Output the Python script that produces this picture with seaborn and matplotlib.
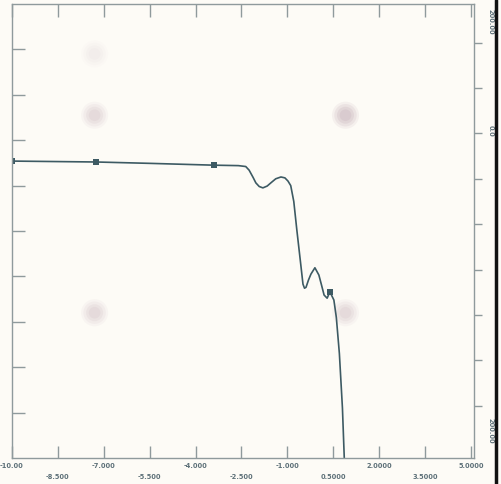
import matplotlib
matplotlib.use("Agg")
import matplotlib.pyplot as plt
import seaborn as sns
import pandas as pd
import numpy as np

# Curve
curve_x = [-10.0, -7.25, -5.5, -3.41, -2.6, -2.36, -2.25, -2.12, -2.03, -1.92, -1.80, -1.66,
           -1.54, -1.38, -1.21, -1.08, -0.98, -0.89, -0.79, -0.69, -0.56, -0.49, -0.44,
           -0.39, -0.31, -0.23, -0.10, 0.03, 0.12, 0.20, 0.30,
           0.39, 0.52, 0.60, 0.70, 0.80, 0.86]
curve_y = [6.54, 6.52, 6.49, 6.45, 6.44, 6.42, 6.34, 6.18, 6.06, 5.98, 5.95, 5.99,
           6.06, 6.15, 6.19, 6.17, 6.10, 6.00, 5.65, 5.02, 4.25, 3.83, 3.74,
           3.76, 3.92, 4.05, 4.19, 4.03, 3.80, 3.59, 3.52,
           3.66, 3.48, 3.10, 2.30, 1.10, 0.0]
marker_x = [-10.0, -7.25, -3.41, 0.39]
marker_y = [6.54, 6.52, 6.45, 3.66]
blob_x = [-7.3, -7.3, 0.9, 0.9, -7.3]
blob_y = [7.55, 3.2, 7.55, 3.2, 8.9]
blob_strength = [0.35, 0.35, 0.6, 0.35, 0.12]

x_ticks = [-10.0, -8.5, -7.0, -5.5, -4.0, -2.5, -1.0, 0.5, 2.0, 3.5, 5.0]
x_labels = ["-10.00", "-8.500", "-7.000", "-5.500", "-4.000", "-2.500", "-1.000",
            "0.5000", "2.0000", "3.5000", "5.0000"]
y_ticks = [1, 2, 3, 4, 5, 6, 7, 8, 9]
right_labels = ["200.00", "0.0", "200.00"]
right_label_pos = [9.6, 7.2, 0.6]

sns.set_style("white")
plt.rcParams['font.family'] = ['DejaVu Sans']

bg = "#fdfbf6"
line_c = "#3d5a63"
frame_c = "#8f9a9c"

fig = plt.figure(figsize=(5.01, 4.84), dpi=100, facecolor=bg)
ax = fig.add_axes([12/501, (484-458)/484, 462/501, 454/484])
ax.set_facecolor(bg)

# faint, soft smudges from the scan (layered for a blurred look)
for size, frac in [(380, 0.25), (260, 0.35), (150, 0.45), (70, 0.5)]:
    sns.scatterplot(x=blob_x, y=blob_y, ax=ax, s=size, color="#c9b3bd",
                    alpha=[a * frac for a in blob_strength], edgecolor="none",
                    legend=False)

df = pd.DataFrame({"x": curve_x, "y": curve_y})
sns.lineplot(data=df, x="x", y="y", ax=ax, color=line_c, linewidth=1.2, sort=False)
sns.scatterplot(x=marker_x, y=marker_y, ax=ax, color=line_c, s=20, edgecolor="none",
                marker="s", legend=False)

ax.set_xlim(-10, 5.1)
ax.set_ylim(0, 10)
ax.set_xlabel("")
ax.set_ylabel("")
for s in ax.spines.values():
    s.set_color(frame_c)
    s.set_linewidth(1.0)
ax.set_xticks(x_ticks)
ax.set_xticklabels([])
ax.set_yticks(y_ticks)
ax.set_yticklabels([])
ax.tick_params(axis="both", which="both", direction="in", length=9, color=frame_c,
               width=1.0, top=True, bottom=True, left=True, right=False)

for i, (xt, lab) in enumerate(zip(x_ticks, x_labels)):
    off = -0.010 if i % 2 == 0 else -0.036
    ax.text(xt, off, lab, transform=ax.get_xaxis_transform(), ha="center", va="top",
            fontsize=4.8, fontweight="bold", color="#5d7078")

# right secondary axis
ax2 = ax.twinx()
ax2.set_ylim(0, 10)
ax2.spines[:].set_visible(False)
ax2.set_yticks([y + 0.15 for y in y_ticks])
ax2.set_yticklabels([])
ax2.tick_params(axis="y", direction="out", length=6, pad=0, color=frame_c, width=1.0)
for pos, lab in zip(right_label_pos, right_labels):
    ax2.text(1.035, pos / 10, lab, transform=ax2.transAxes, rotation=270, ha="center",
             va="center", fontsize=4.8, fontweight="bold", color="#5d7078")

fig.add_artist(plt.Line2D([0.991, 0.991], [0.0, 1.0], color="#111111", linewidth=2.5))

fig.savefig("out.png", dpi=100, facecolor=bg)
